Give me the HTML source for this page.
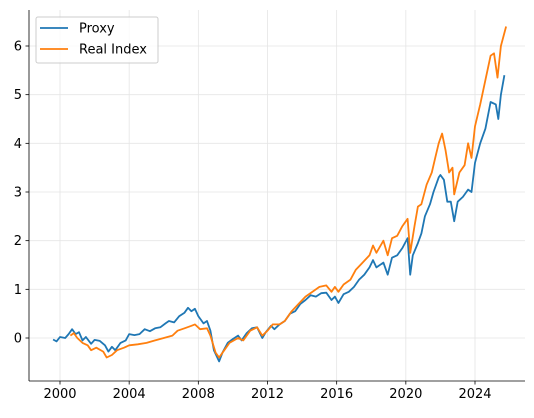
<!DOCTYPE html>
<html><head><meta charset="utf-8"><style>
body{margin:0;background:#fff;}
svg{font-family:"DejaVu Sans","Liberation Sans",sans-serif;}
</style></head><body>
<svg id="chart" width="534" height="413" viewBox="0 0 534 413" xmlns="http://www.w3.org/2000/svg">
<g id="grid"></g>
<g id="series"></g>
<g id="axes"></g>
<g>
<rect x="36" y="17" width="122" height="46" rx="2" fill="#fff" fill-opacity="0.8" stroke="#ccc" stroke-width="1"/>
<line x1="40" y1="28" x2="68" y2="28" stroke="#1f77b4" stroke-width="1.8"/>
<text x="79" y="32.5" font-size="13" fill="#000">Proxy</text>
<line x1="40" y1="49" x2="68" y2="49" stroke="#ff7f0e" stroke-width="1.8"/>
<text x="79" y="53.5" font-size="13" fill="#000">Real Index</text>
</g>
</svg>
<script>
const proxyX=[1999.6,1999.8,2000.0,2000.3,2000.5,2000.7,2000.9,2001.1,2001.3,2001.5,2001.8,2002.0,2002.3,2002.6,2002.8,2003.0,2003.2,2003.5,2003.8,2004.0,2004.3,2004.6,2004.9,2005.2,2005.5,2005.8,2006.1,2006.3,2006.6,2006.9,2007.2,2007.4,2007.6,2007.8,2008.0,2008.3,2008.5,2008.7,2008.9,2009.2,2009.4,2009.7,2010.0,2010.3,2010.5,2010.8,2011.1,2011.4,2011.7,2011.9,2012.2,2012.4,2012.7,2013.0,2013.3,2013.6,2013.9,2014.2,2014.5,2014.8,2015.1,2015.4,2015.7,2015.9,2016.1,2016.4,2016.7,2017.0,2017.3,2017.6,2017.9,2018.1,2018.3,2018.7,2018.95,2019.2,2019.5,2019.8,2020.1,2020.25,2020.4,2020.7,2020.9,2021.1,2021.4,2021.6,2021.9,2022.0,2022.2,2022.4,2022.6,2022.8,2023.0,2023.3,2023.6,2023.8,2024.0,2024.3,2024.6,2024.9,2025.2,2025.35,2025.5,2025.7];
const proxyY=[-0.03,-0.07,0.02,0.0,0.08,0.18,0.08,0.12,-0.05,0.02,-0.12,-0.04,-0.06,-0.15,-0.28,-0.18,-0.25,-0.1,-0.05,0.08,0.06,0.08,0.18,0.14,0.2,0.22,0.3,0.35,0.32,0.45,0.52,0.62,0.55,0.6,0.45,0.3,0.35,0.15,-0.25,-0.48,-0.3,-0.1,-0.02,0.05,-0.05,0.1,0.2,0.22,0.0,0.12,0.25,0.18,0.28,0.35,0.5,0.55,0.7,0.78,0.88,0.85,0.92,0.93,0.78,0.85,0.72,0.9,0.95,1.05,1.2,1.3,1.45,1.6,1.45,1.55,1.3,1.65,1.7,1.85,2.05,1.3,1.7,1.95,2.15,2.5,2.75,3.0,3.3,3.35,3.25,2.8,2.8,2.4,2.8,2.9,3.05,3.0,3.6,4.0,4.3,4.85,4.8,4.5,5.0,5.4];
const realX=[2000.6,2000.8,2001.0,2001.3,2001.6,2001.8,2002.1,2002.5,2002.7,2003.0,2003.3,2003.7,2004.0,2004.5,2005.0,2005.5,2006.0,2006.5,2006.8,2007.2,2007.6,2007.8,2008.1,2008.5,2008.7,2009.0,2009.2,2009.5,2009.8,2010.3,2010.6,2011.0,2011.4,2011.7,2012.0,2012.3,2012.7,2013.0,2013.4,2013.8,2014.2,2014.6,2015.0,2015.4,2015.7,2015.9,2016.1,2016.4,2016.8,2017.1,2017.5,2017.9,2018.1,2018.3,2018.7,2018.95,2019.2,2019.5,2019.8,2020.1,2020.25,2020.5,2020.7,2020.9,2021.2,2021.5,2021.7,2021.9,2022.1,2022.3,2022.5,2022.7,2022.8,2023.1,2023.4,2023.6,2023.8,2024.0,2024.3,2024.6,2024.9,2025.1,2025.3,2025.5,2025.8];
const realY=[0.05,0.1,0.0,-0.1,-0.15,-0.25,-0.2,-0.28,-0.4,-0.35,-0.25,-0.2,-0.15,-0.13,-0.1,-0.05,0.0,0.05,0.15,0.2,0.25,0.28,0.18,0.2,0.05,-0.3,-0.4,-0.25,-0.1,0.0,-0.05,0.15,0.22,0.05,0.15,0.28,0.28,0.35,0.55,0.7,0.85,0.95,1.05,1.08,0.95,1.05,0.95,1.1,1.2,1.4,1.55,1.7,1.9,1.75,2.0,1.7,2.05,2.1,2.3,2.45,1.75,2.3,2.7,2.75,3.15,3.4,3.7,4.0,4.2,3.85,3.4,3.5,2.95,3.4,3.55,4.0,3.7,4.35,4.8,5.3,5.8,5.85,5.35,6.0,6.4];
const xTicks=[2000,2004,2008,2012,2016,2020,2024];
const yTicks=[0,1,2,3,4,5,6];

const L=29,R=525,T=10,B=381;
const sx=v=>60+(v-2000)*(475-60)/24;
const sy=v=>338-v*(338-46)/6;
const NS="http://www.w3.org/2000/svg";
function mk(tag,attrs,parent){const e=document.createElementNS(NS,tag);for(const k in attrs)e.setAttribute(k,attrs[k]);parent.appendChild(e);return e;}
const grid=document.getElementById('grid'),axes=document.getElementById('axes'),series=document.getElementById('series');
xTicks.forEach(t=>{
 const g=mk('line',{x1:sx(t),x2:sx(t),y1:T,y2:B,stroke:'#e5e5e5','stroke-width':0.8},grid);
 
 
 const k=mk('line',{x1:sx(t),x2:sx(t),y1:B,y2:B+3.5,stroke:'#000','stroke-width':0.8},axes);
 
 
 const tx=mk('text',{x:sx(t),y:B+17,'font-size':13,'text-anchor':'middle',fill:'#000'},axes);
 tx.textContent=t;
 
 
});
yTicks.forEach(t=>{
 const g=mk('line',{x1:L,x2:R,y1:sy(t),y2:sy(t),stroke:'#e5e5e5','stroke-width':0.8},grid);
 
 
 const k=mk('line',{x1:L-3.5,x2:L,y1:sy(t),y2:sy(t),stroke:'#000','stroke-width':0.8},axes);
 
 
 const tx=mk('text',{x:L-7,y:sy(t)+4.5,'font-size':13,'text-anchor':'end',fill:'#000'},axes);
 tx.textContent=t;
 
 
});
const xa=mk('line',{x1:L,x2:R,y1:B,y2:B,stroke:'#000','stroke-width':0.8},axes);


const ya=mk('line',{x1:L,x2:L,y1:T,y2:B,stroke:'#000','stroke-width':0.8},axes);


function path(xs,ys){return xs.map((x,i)=>(i?'L':'M')+sx(x).toFixed(1)+','+sy(ys[i]).toFixed(1)).join('');}
const p1=mk('path',{d:path(proxyX,proxyY),fill:'none',stroke:'#1f77b4','stroke-width':1.8,'stroke-linejoin':'round'},series);


const p2=mk('path',{d:path(realX,realY),fill:'none',stroke:'#ff7f0e','stroke-width':1.8,'stroke-linejoin':'round'},series);


</script>
</body></html>
